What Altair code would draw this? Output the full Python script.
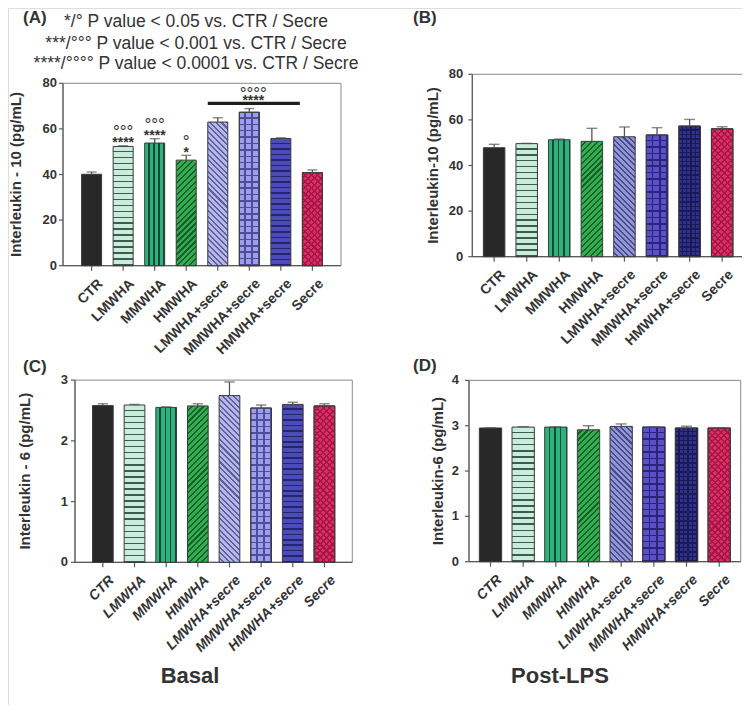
import math
import altair as alt
import pandas as pd

# ---------------- data ----------------
categories = ["CTR", "LMWHA", "MMWHA", "HMWHA", "LMWHA+secre", "MMWHA+secre", "HMWHA+secre", "Secre"]

il10_basal = [40.1, 52.3, 53.8, 46.3, 63.0, 67.3, 55.8, 40.8]
il10_basal_err = [1.0, 0.3, 1.9, 2.1, 1.9, 1.6, 0.3, 1.2]
il10_lps = [47.8, 49.6, 51.3, 50.6, 52.6, 53.4, 57.3, 56.1]
il10_lps_err = [1.5, 0.1, 0.3, 5.7, 4.3, 3.2, 2.9, 0.9]
il6_basal = [2.58, 2.59, 2.55, 2.575, 2.745, 2.54, 2.60, 2.575]
il6_basal_err = [0.03, 0.01, 0.01, 0.035, 0.225, 0.05, 0.035, 0.035]
il6_lps = [2.95, 2.97, 2.97, 2.91, 2.985, 2.97, 2.95, 2.95]
il6_lps_err = [0.005, 0.01, 0.005, 0.09, 0.055, 0.005, 0.04, 0.005]

sig_stars = ["", "****", "****", "*", "", "", "", ""]
sig_circles = ["", "°°°", "°°°", "°", "", "", "", ""]
group_from = "LMWHA+secre"
group_to = "HMWHA+secre"
group_center = "MMWHA+secre"
group_level = 71.2
group_stars_level = 74.1
group_circles_level = 77.2
group_stars = "****"
group_circles = "°°°°"

legend_lines = [
    "*/° P value < 0.05 vs. CTR / Secre",
    "***/°°° P value < 0.001 vs. CTR / Secre",
    "****/°°°° P value < 0.0001 vs. CTR / Secre",
]
panel_tags = ["(A)", "(B)", "(C)", "(D)"]
condition_labels = ["Basal", "Post-LPS"]

FONT = "Liberation Sans"
W, H = 734, 697
TXT = "#333333"
AX = "#5a5a5a"

# ---------------- fill styles ----------------
pal_basal = {
    "CTR": [("solid", "#282828", None, 0)],
    "LMWHA": [("h", "#c9ecdd", "#3c5c4e", 6.0)],
    "MMWHA": [("v", "#2bb57c", "#1c4535", 4)],
    "HMWHA": [("d1", "#34ac50", "#17602b", 4.2)],
    "LMWHA+secre": [("d2", "#b4b7e8", "#5d609f", 4.0)],
    "MMWHA+secre": [("h", "#9d9dea", "#4d4d9e", 6.5), ("v", None, "#4d4d9e", 3)],
    "HMWHA+secre": [("h", "#4b4bb9", "#25256e", 5.5)],
    "Secre": [("d1", "#de2d62", "#a31848", 4.5), ("d2", None, "#a31848", 4.5)],
}
pal_lps = dict(pal_basal)
pal_lps.update({
    "LMWHA+secre": [("d2", "#9296d4", "#474b8c", 4.0)],
    "MMWHA+secre": [("h", "#5b50c9", "#2b2578", 6.5), ("v", None, "#2b2578", 3)],
    "HMWHA+secre": [("h", "#30308e", "#1a1a55", 4.5), ("v", None, "#1a1a55", 5)],
})

CLEAR = "rgba(0,0,0,0)"


def make_fill(kind, bg, fg, spacing, w, h):
    if kind == "solid":
        return bg
    bgc = bg if bg is not None else CLEAR
    if kind == "h":
        x1, y1, x2, y2 = 0, 0, 0, 1
        n = max(1, round(h / spacing))
        L = h
    elif kind == "v":
        x1, y1, x2, y2 = 0, 0, 1, 0
        n = int(spacing)
        L = w
    else:
        r = w / h
        b = (1 + r) / (1 + r * r)
        a = r * b
        if kind == "d1":
            x1, y1, x2, y2 = 0, 0, a, b
        else:
            x1, y1, x2, y2 = 0, 1, a, 1 - b
        L = (w + h) / math.sqrt(2)
        n = max(1, round(L / spacing))
    frac = min(0.45, 1.5 / (L / n))
    stops = []
    for i in range(n):
        o0 = i / n
        o1 = (i + 1 - frac) / n
        o2 = (i + 1) / n
        stops += [
            {"offset": o0, "color": bgc},
            {"offset": o1, "color": bgc},
            {"offset": o1, "color": fg},
            {"offset": o2, "color": fg},
        ]
    return {"gradient": "linear", "x1": x1, "y1": y1, "x2": x2, "y2": y2, "stops": stops}


# ---------------- panels ----------------
panels = [
    dict(vals=il10_basal, errs=il10_basal_err, ymax=80, ticks=[0, 20, 40, 60, 80],
         title="Interleukin - 10 (pg/mL)", x0=55, x1=333, ytop=75.3, ybot=257.7,
         pi=0.366, po=0.59, italic=False, tx=7.5, lgap=6, pal=pal_basal, sig=True),
    dict(vals=il10_lps, errs=il10_lps_err, ymax=80, ticks=[0, 20, 40, 60, 80],
         title="Interleukin-10 (pg/mL)", x0=464.3, x1=736, ytop=66.3, ybot=248.7,
         pi=0.34, po=0.34, italic=False, tx=425, lgap=9, pal=pal_lps, sig=False),
    dict(vals=il6_basal, errs=il6_basal_err, ymax=3, ticks=[0, 1, 2, 3],
         title="Interleukin - 6 (pg/mL)", x0=67, x1=344.3, ytop=372.1, ybot=554.3,
         pi=0.346, po=0.553, italic=True, tx=17, lgap=7, pal=pal_basal, sig=False),
    dict(vals=il6_lps, errs=il6_lps_err, ymax=4, ticks=[0, 1, 2, 3, 4],
         title="Interleukin-6 (pg/mL)", x0=461, x1=732.7, ytop=372.4, ybot=553.7,
         pi=0.317, po=0.317, italic=True, tx=430, lgap=10, pal=pal_lps, sig=False),
]

one = pd.DataFrame({"k": [0]})


def label(text, x, y, size, weight="bold", align="left", angle=0):
    return alt.Chart(one).mark_text(font=FONT, fontSize=size, fontWeight=weight, color=TXT,
                                    align=align, baseline="middle", angle=angle).encode(
        x=alt.value(x), y=alt.value(y), text=alt.value(text))


def build_panel(p):
    n = len(categories)
    xs = alt.Scale(domain=categories, range=[p["x0"], p["x1"]],
                   paddingInner=p["pi"], paddingOuter=p["po"])
    ys = alt.Scale(domain=[0, p["ymax"]], range=[p["ybot"], p["ytop"]], nice=False, zero=True)
    step = (p["x1"] - p["x0"]) / (n - p["pi"] + 2 * p["po"])
    bw = step * (1 - p["pi"])
    ph = p["ybot"] - p["ytop"]
    X = lambda f: alt.X(f, type="nominal", scale=xs, axis=None)
    Y = lambda f: alt.Y(f, type="quantitative", scale=ys, axis=None)

    layers = []
    layers.append(alt.Chart(one).mark_rect(fillOpacity=0, stroke="#8a8a8a", strokeWidth=1).encode(
        x=alt.value(p["x0"]), x2=alt.value(p["x1"]), y=alt.value(p["ytop"]), y2=alt.value(p["ybot"])))
    layers.append(alt.Chart(one).mark_rule(color=AX, strokeWidth=1.2).encode(
        x=alt.value(p["x0"]), y=alt.value(p["ytop"]), y2=alt.value(p["ybot"])))
    layers.append(alt.Chart(one).mark_rule(color=AX, strokeWidth=1.2).encode(
        x=alt.value(p["x0"]), x2=alt.value(p["x1"]), y=alt.value(p["ybot"])))

    tdf = pd.DataFrame({"t": p["ticks"]})
    layers.append(alt.Chart(tdf).mark_rule(color=AX, strokeWidth=1.2).encode(
        y=Y("t"), x=alt.value(p["x0"] - 4), x2=alt.value(p["x0"])))
    layers.append(alt.Chart(tdf).mark_text(font=FONT, fontSize=13, fontWeight="bold", color=TXT,
                                           align="right", baseline="middle").encode(
        y=Y("t"), x=alt.value(p["x0"] - p["lgap"]), text=alt.Text("t:Q", format="d")))
    layers.append(label(p["title"], p["tx"], (p["ytop"] + p["ybot"]) / 2, 15, "bold", "center", 270))

    cdf = pd.DataFrame({"cat": categories})
    layers.append(alt.Chart(cdf).mark_rule(color=AX, strokeWidth=1.2).encode(
        x=X("cat"), y=alt.value(p["ybot"]), y2=alt.value(p["ybot"] + 5)))
    layers.append(alt.Chart(cdf).mark_text(
        font=FONT, fontSize=14, fontWeight="bold", color=TXT,
        fontStyle="italic" if p["italic"] else "normal",
        angle=315, align="right", baseline="top", xOffset=4).encode(
        x=X("cat"), y=alt.value(p["ybot"] + 11), text="cat:N"))

    for c, v in zip(categories, p["vals"]):
        hpx = max(4.0, v / p["ymax"] * ph)
        d = pd.DataFrame({"cat": [c], "val": [v]})
        for (kind, bg, fg, sp) in p["pal"][c]:
            fill = make_fill(kind, bg, fg, sp, bw, hpx)
            layers.append(
                alt.Chart(d).mark_bar(fill=fill, stroke="#3a3a3a", strokeWidth=1).encode(
                    x=X("cat"), y=Y("val")))

    df = pd.DataFrame({
        "cat": categories,
        "val": p["vals"],
        "top": [v + e for v, e in zip(p["vals"], p["errs"])],
        "stars": sig_stars if p["sig"] else [""] * n,
        "circles": sig_circles if p["sig"] else [""] * n,
    })
    layers.append(alt.Chart(df).mark_rule(color="#555", strokeWidth=1.3).encode(
        x=X("cat"), y=Y("val"), y2="top:Q"))
    layers.append(alt.Chart(df).mark_tick(color="#555", size=bw * 0.5, thickness=1.4).encode(
        x=X("cat"), y=Y("top")))

    if p["sig"]:
        layers.append(alt.Chart(df).mark_text(font=FONT, fontSize=14, fontWeight="bold", color=TXT,
                                              baseline="alphabetic", dy=1.5).encode(
            x=X("cat"), y=Y("top"), text="stars:N"))
        layers.append(alt.Chart(df).mark_text(font=FONT, fontSize=17, color=TXT,
                                              baseline="alphabetic", dy=-8.5).encode(
            x=X("cat"), y=Y("top"), text="circles:N"))
        gd = pd.DataFrame({"c1": [group_from], "c2": [group_to], "lvl": [group_level],
                           "center": [group_center], "slvl": [group_stars_level],
                           "clvl": [group_circles_level], "s": [group_stars], "o": [group_circles]})
        layers.append(alt.Chart(gd).mark_rule(color="#1e1e1e", strokeWidth=3.4,
                                              xOffset=-bw / 2, x2Offset=bw / 2 + 9).encode(
            x=X("c1"), x2="c2:N", y=Y("lvl")))
        layers.append(alt.Chart(gd).mark_text(font=FONT, fontSize=14, fontWeight="bold", color=TXT,
                                              baseline="alphabetic", dy=8, dx=4).encode(
            x=X("center"), y=Y("slvl"), text="s:N"))
        layers.append(alt.Chart(gd).mark_text(font=FONT, fontSize=17, color=TXT,
                                              baseline="alphabetic", dy=9, dx=4).encode(
            x=X("center"), y=Y("clvl"), text="o:N"))

    return alt.layer(*layers)


texts = [
    label(panel_tags[0], 15, 9.5, 17),
    label(panel_tags[1], 405, 9.5, 17),
    label(panel_tags[2], 15, 358.7, 17),
    label(panel_tags[3], 405, 358, 17),
    label(legend_lines[0], 188, 13.7, 17.5, "normal", "center"),
    label(legend_lines[1], 188, 36.3, 17.5, "normal", "center"),
    label(legend_lines[2], 188, 55.5, 17.5, "normal", "center"),
    label(condition_labels[0], 182, 668, 22, "bold", "center"),
    label(condition_labels[1], 552, 668, 22, "bold", "center"),
]

chart = alt.layer(*[build_panel(p) for p in panels], *texts).resolve_scale(
    x="independent", y="independent"
).properties(
    width=W, height=H, autosize=alt.AutoSizeParams(type="none"), padding=0,
).configure_view(
    stroke="transparent", strokeWidth=0, strokeOpacity=0
).configure(font=FONT)

chart.save("out.html", embed_options={"renderer": "svg", "actions": False})
